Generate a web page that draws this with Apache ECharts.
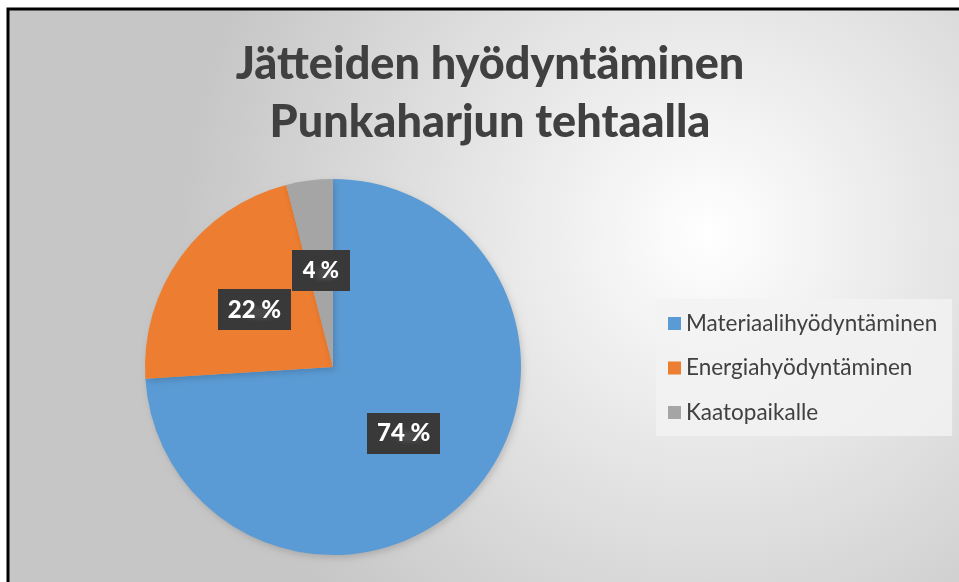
<!DOCTYPE html>
<html>
<head>
<meta charset="utf-8">
<script src="https://cdn.jsdelivr.net/npm/echarts@6/dist/echarts.min.js"></script>
<style>
  html, body { margin: 0; padding: 0; background: #fff; }
  #chart { width: 959px; height: 582px; }
</style>
</head>
<body>
<div id="chart"></div>
<script>
// Jätteiden hyödyntäminen - osuudet prosentteina
var categories = ['Materiaalihyödyntäminen', 'Energiahyödyntäminen', 'Kaatopaikalle'];
var shares = [74, 22, 4];
var colors = ['#5B9BD5', '#ED7D31', '#A5A5A5'];

// dotted dark pattern for the data labels
function labelPattern() {
    var c = document.createElement('canvas');
    c.width = 7;
    c.height = 7;
    var ctx = c.getContext('2d');
    ctx.fillStyle = '#393939';
    ctx.fillRect(0, 0, 7, 7);
    ctx.fillStyle = '#4a4a4a';
    ctx.fillRect(3, 3, 2, 2);
    return c;
}

var myChart = echarts.init(document.getElementById('chart'));

var pieData = categories.map(function (name, i) {
    var item = { name: name, value: shares[i], itemStyle: { color: colors[i] } };
    // the thin slice: slightly smaller text so the label is not dropped
    if (i === 2) {
        item.label = { fontSize: 22, lineHeight: 22, padding: [10, 11, 9, 11] };
    }
    return item;
});

var option = {
    animation: false,
    backgroundColor: '#ffffff',
    graphic: [{
        type: 'rect',
        z: -10,
        shape: { x: 8, y: 9, width: 1000, height: 700 },
        style: {
            fill: new echarts.graphic.RadialGradient(0.7, 0.32, 0.75, [
                { offset: 0, color: '#ffffff' },
                { offset: 1, color: '#c6c6c6' }
            ]),
            stroke: '#000',
            lineWidth: 3
        }
    }],
    title: {
        text: 'Jätteiden hyödyntäminen\nPunkaharjun tehtaalla',
        left: 485,
        top: 30,
        textAlign: 'center',
        textStyle: {
            fontFamily: 'Lato',
            fontWeight: 900,
            fontSize: 45,
            lineHeight: 58,
            color: '#404040'
        }
    },
    legend: {
        orient: 'vertical',
        left: 656,
        top: 299,
        padding: [13, 15, 12, 12],
        itemWidth: 13,
        itemHeight: 13,
        itemGap: 21.5,
        icon: 'rect',
        backgroundColor: 'rgba(242,242,242,0.85)',
        data: categories,
        textStyle: {
            fontFamily: 'Lato',
            fontSize: 22.5,
            lineHeight: 20,
            color: '#404040'
        }
    },
    series: [{
        type: 'pie',
        center: [333, 367],
        radius: 188,
        startAngle: 90,
        clockwise: true,
        percentPrecision: 0,
        avoidLabelOverlap: false,
        itemStyle: {
            shadowColor: 'rgba(0,0,0,0.15)',
            shadowBlur: 6,
            shadowOffsetX: 2,
            shadowOffsetY: 3
        },
        label: {
            show: true,
            position: 'inside',
            formatter: '{d} %',
            fontFamily: 'Lato',
            fontWeight: 900,
            fontSize: 24,
            lineHeight: 24,
            color: '#ffffff',
            backgroundColor: { image: labelPattern(), repeat: 'repeat' },
            padding: [9, 10, 8, 10],
            shadowColor: 'rgba(0,0,0,0.45)',
            shadowBlur: 4,
            shadowOffsetX: 3,
            shadowOffsetY: 3
        },
        labelLine: { show: false },
        emphasis: { disabled: true },
        data: pieData
    }]
};

myChart.setOption(option);
</script>
</body>
</html>
